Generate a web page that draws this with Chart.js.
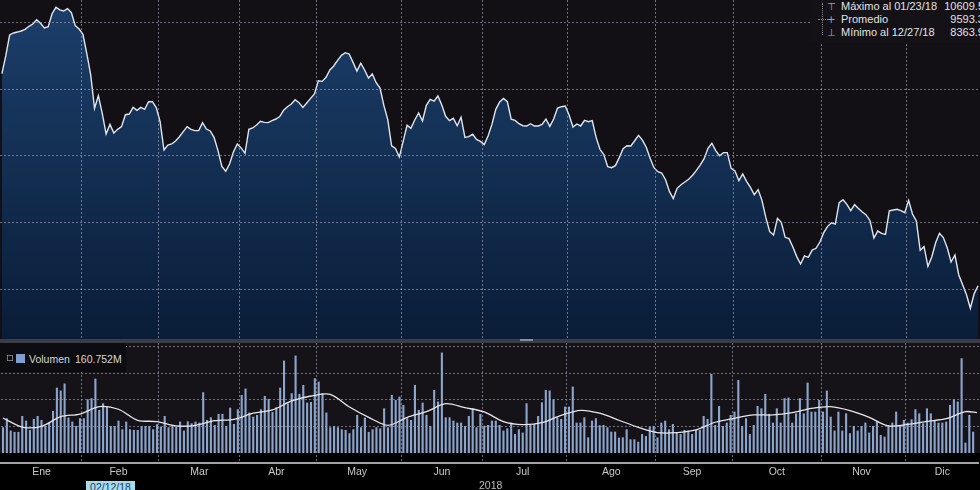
<!DOCTYPE html>
<html>
<head>
<meta charset="utf-8">
<script src="https://cdn.jsdelivr.net/npm/chart.js@4.4.1/dist/chart.umd.min.js"></script>
<style>
  body { margin: 0; background: #000; width: 980px; height: 490px; overflow: hidden; position: relative; font-family: 'Liberation Sans', Arial, sans-serif; }
  .abs { position: absolute; }
  #pricePanel { left: 0; top: 0; width: 980px; height: 339px; background: #121015; }
  #sep { left: 0; top: 339px; width: 980px; height: 4px; background: #3d3c44; }
  #handle { left: 520px; top: 339px; width: 13px; height: 2px; background: #8d8d92; }
  #volPanel { left: 0; top: 343px; width: 980px; height: 110px; background: #151318; }
  #vol { left: 0; top: 343px; }
  #stats { left: 811px; top: 0; width: 169px; height: 43px; background: #141217; color: #e2e2e2; font-size: 11px; line-height: 13px; }
  #stats .row { position: absolute; left: 30px; white-space: nowrap; }
  #stats .val { position: absolute; right: -4px; white-space: nowrap; }
  #stats .mk { position: absolute; left: 16px; color: #a8a8ad; font: 10px 'DejaVu Sans', sans-serif; line-height: 13px; }
  #volLegend { left: 0; top: 343px; width: 126px; height: 29px; background: #0d0c10; color: #d6d6d6; font-size: 10.5px; line-height: 13px; }
  #dateTag { left: 86px; top: 481px; width: 49px; height: 12px; background: #a6dcec; color: #1b3866; font-size: 10.5px; line-height: 12px; text-align: center; }
  #year { left: 479px; top: 479px; color: #bcbcbc; font-size: 10.5px; line-height: 13px; }
</style>
</head>
<body>
<div id="pricePanel" class="abs"><canvas id="price" width="980" height="339"></canvas></div>
<div id="sep" class="abs"></div>
<div id="handle" class="abs"></div>
<div id="volPanel" class="abs"></div>
<canvas id="vol" class="abs" width="980" height="147"></canvas>

<div id="stats" class="abs">
  <div class="abs" style="left:11px;top:3px;height:32px;border-left:1px dotted #8a8a90"></div>
  <div class="abs" style="left:7px;top:19px;width:14px;border-top:1px dotted #8a8a90"></div>
  <span class="mk" style="top:0px">&#8868;</span>
  <span class="mk" style="top:13px">+</span>
  <span class="mk" style="top:26px">&#8869;</span>
  <div class="row" style="top:0px">Máximo al 01/23/18</div><div class="val" style="top:0px">10609.5</div>
  <div class="row" style="top:13px">Promedio</div><div class="val" style="top:13px">9593.3</div>
  <div class="row" style="top:26px">Mínimo al 12/27/18</div><div class="val" style="top:26px">8363.9</div>
</div>

<div id="volLegend" class="abs">
  <div class="abs" style="left:7px;top:12px;width:4px;height:4px;border:1px solid #77777c"></div>
  <div class="abs" style="left:16px;top:11px;width:9px;height:9px;background:#809fd0"></div>
  <span class="abs" style="left:29px;top:10px">Volumen</span>
  <span class="abs" style="left:75px;top:10px">160.752M</span>
</div>

<div id="dateTag" class="abs">02/12/18</div>
<div id="year" class="abs">2018</div>

<script>
// 2018 trading sessions per month (first session of January is off the left edge)
const monthNames = ['Ene', 'Feb', 'Mar', 'Abr', 'May', 'Jun', 'Jul', 'Ago', 'Sep', 'Oct', 'Nov', 'Dic'];
const tradingDays = [21, 20, 21, 20, 22, 21, 22, 23, 20, 23, 22, 19];

// daily close, points
const closes = [
  10114, 10249, 10403, 10418, 10425, 10433, 10445, 10468, 10485, 10517,
  10490, 10455, 10465, 10562, 10609.5, 10590, 10582, 10600, 10570, 10473,
  10448, 10408, 10264, 10107, 9856, 9950, 9818, 9664, 9736, 9672,
  9699, 9719, 9808, 9813, 9863, 9841, 9863, 9848, 9905, 9905,
  9861, 9756, 9545, 9582, 9590, 9612, 9644, 9682, 9719, 9699,
  9689, 9689, 9749, 9701, 9687, 9637, 9540, 9423, 9386, 9440,
  9530, 9590, 9560, 9520, 9699, 9709, 9731, 9759, 9751, 9749,
  9764, 9776, 9794, 9841, 9868, 9888, 9920, 9898, 9863, 9896,
  9930, 9963, 10062, 10057, 10087, 10142, 10172, 10214, 10251, 10271,
  10261, 10199, 10134, 10192, 10142, 10082, 10112, 10047, 10007, 9876,
  9771, 9575, 9557, 9493, 9609, 9729, 9706, 9769, 9821, 9761,
  9878, 9923, 9910, 9948, 9881, 9796, 9764, 9781, 9726, 9789,
  9639, 9644, 9662, 9624, 9609, 9585, 9649, 9736, 9848, 9903,
  9930, 9905, 9774, 9766, 9741, 9726, 9724, 9741, 9724, 9724,
  9736, 9776, 9721, 9776, 9858, 9868, 9873, 9806, 9716, 9739,
  9724, 9766, 9756, 9764, 9639, 9550, 9510, 9420, 9413, 9428,
  9488, 9555, 9577, 9575, 9614, 9654, 9619, 9565, 9483, 9413,
  9383, 9373, 9323, 9236, 9182, 9259, 9286, 9306, 9326, 9356,
  9393, 9433, 9480, 9557, 9595, 9540, 9502, 9525, 9525, 9408,
  9388, 9316, 9366, 9311, 9266, 9211, 9249, 9167, 9040, 8935,
  8910, 9035, 9005, 8893, 8883, 8821, 8749, 8694, 8754, 8744,
  8798, 8811, 8858, 8928, 8975, 9002, 8992, 9152, 9174, 9139,
  9092, 9137, 9109, 9082, 9060, 9017, 8888, 8940, 8923, 8915,
  9090, 9097, 9102, 9092, 9077, 9169, 9067, 9015, 8796, 8823,
  8677, 8746, 8853, 8923, 8891, 8816, 8709, 8761, 8612, 8540,
  8465, 8363.9, 8473, 8532
];

// daily volume, millions
const volumes = [
  194, 262, 169, 159, 159, 279, 244, 174, 257, 279,
  249, 204, 229, 317, 493, 471, 524, 267, 237, 204,
  262, 262, 405, 413, 561, 325, 375, 350, 204, 204,
  244, 179, 237, 179, 174, 174, 204, 204, 204, 179,
  217, 199, 279, 194, 211, 199, 237, 169, 239, 224,
  237, 229, 458, 249, 269, 211, 295, 295, 204, 342,
  219, 330, 438, 486, 305, 274, 287, 330, 430, 408,
  310, 345, 493, 697, 375, 451, 735, 446, 513, 380,
  385, 564, 539, 451, 305, 194, 204, 194, 179, 174,
  149, 179, 287, 194, 267, 159, 179, 194, 186, 337,
  194, 438, 400, 425, 362, 262, 249, 513, 325, 380,
  287, 204, 476, 388, 758, 269, 269, 244, 229, 229,
  204, 279, 337, 194, 295, 206, 211, 244, 244, 211,
  169, 186, 229, 143, 179, 154, 375, 211, 219, 279,
  382, 476, 471, 405, 269, 257, 350, 350, 501, 229,
  229, 269, 118, 244, 262, 209, 211, 194, 161, 161,
  116, 118, 179, 103, 103, 85, 143, 128, 199, 204,
  118, 229, 244, 179, 219, 154, 143, 174, 169, 143,
  174, 174, 279, 257, 596, 211, 355, 204, 229, 287,
  312, 551, 204, 262, 143, 211, 355, 337, 445, 295,
  229, 337, 229, 413, 418, 229, 299, 413, 299, 531,
  312, 312, 400, 312, 471, 274, 169, 312, 169, 299,
  149, 204, 169, 204, 229, 154, 204, 237, 136, 123,
  211, 229, 312, 204, 249, 229, 254, 330, 299, 224,
  337, 299, 249, 229, 229, 237, 362, 405, 388, 715,
  78, 287, 160.752, null
];

// volume moving average, read at these sessions
const maDays = [0, 5, 10, 15, 20, 25, 30, 35, 40, 45, 50, 55, 60, 65, 70, 75, 80, 85, 90, 95,
  100, 105, 110, 115, 120, 125, 130, 135, 140, 145, 150, 155, 160, 165, 170, 175, 180, 185, 190, 195,
  200, 205, 210, 215, 220, 225, 230, 235, 240, 245, 250, 253];
const maValues = [264, 196, 201, 274, 294, 350, 330, 247, 237, 204, 209, 244, 254, 300, 325, 393, 430, 443, 347, 269,
  209, 269, 312, 372, 342, 310, 237, 214, 229, 284, 322, 300, 247, 194, 154, 154, 174, 232, 262, 287,
  287, 305, 337, 350, 320, 269, 204, 216, 239, 259, 312, 305];

const priceGrid = [8500, 9000, 9500, 10000, 10500];
const volumeGrid = [200, 400, 600, 800];

document.addEventListener("DOMContentLoaded", function() {
    const dayLabels = [];
    const monthStarts = new Set();
    const monthMid = {};
    let n = 0;
    tradingDays.forEach(function(count, m) {
        if (m > 0) monthStarts.add(n);
        monthMid[n + Math.floor((count - 1) / 2)] = monthNames[m];
        for (let d = 1; d <= count; d++) dayLabels.push(monthNames[m] + ' ' + d);
        n += count;
    });

    const gridColor = 'rgba(175, 175, 192, 0.6)';
    const monthGrid = function(c) { return monthStarts.has(c.index) ? gridColor : 'transparent'; };

    const ctx1 = document.getElementById('price').getContext('2d');
    new Chart(ctx1, {
        type: 'line',
        data: {
            labels: dayLabels,
            datasets: [{
                data: closes,
                borderColor: '#dfe6ee',
                borderWidth: 1.4,
                pointRadius: 0,
                tension: 0,
                fill: 'start',
                backgroundColor: function(c) {
                    const area = c.chart.chartArea;
                    if (!area) return '#143256';
                    const g = c.chart.ctx.createLinearGradient(0, area.top, 0, area.bottom);
                    g.addColorStop(0, '#1c3f6b');
                    g.addColorStop(1, '#0a1d38');
                    return g;
                }
            }]
        },
        options: {
            responsive: false,
            animation: false,
            events: [],
            layout: { padding: 0 },
            plugins: { legend: { display: false }, tooltip: { enabled: false } },
            scales: {
                x: {
                    offset: true,
                    grid: { offset: true, color: monthGrid, drawTicks: false, lineWidth: 1, z: 1 },
                    border: { display: false, dash: [2, 2] },
                    ticks: { display: false },
                    afterFit: function(s) { s.height = 0; }
                },
                y: {
                    min: 8134.3,
                    max: 10664.2,
                    afterBuildTicks: function(s) { s.ticks = priceGrid.map(function(v) { return { value: v }; }); },
                    grid: { color: gridColor, drawTicks: false, z: 1 },
                    border: { display: false, dash: [2, 2] },
                    ticks: { display: false },
                    afterFit: function(s) { s.width = 0; }
                }
            }
        }
    });

    const ctx2 = document.getElementById('vol').getContext('2d');
    new Chart(ctx2, {
        type: 'bar',
        data: {
            labels: dayLabels,
            datasets: [{
                type: 'line',
                order: 0,
                data: maDays.map(function(d, k) { return { x: dayLabels[d], y: maValues[k] }; }),
                borderColor: '#e6e6e8',
                borderWidth: 1.3,
                pointRadius: 0,
                tension: 0.3
            }, {
                type: 'bar',
                order: 1,
                data: volumes,
                backgroundColor: '#8ca5cc',
                barPercentage: 0.55,
                categoryPercentage: 1
            }]
        },
        options: {
            responsive: false,
            animation: false,
            events: [],
            layout: { padding: 0 },
            plugins: { legend: { display: false }, tooltip: { enabled: false } },
            scales: {
                x: {
                    offset: true,
                    grid: { offset: true, color: monthGrid, drawTicks: false },
                    border: { display: true, color: '#a2a2a6', width: 2, dash: [2, 2] },
                    ticks: {
                        autoSkip: false,
                        maxRotation: 0,
                        minRotation: 0,
                        padding: 3,
                        color: '#c8c8c8',
                        font: { family: "'Liberation Sans', Arial, sans-serif", size: 10.5 },
                        callback: function(v, i) { return monthMid[i] || ''; }
                    },
                    afterFit: function(s) { s.height = 27; }
                },
                y: {
                    min: -75.5,
                    max: 830,
                    afterBuildTicks: function(s) { s.ticks = volumeGrid.map(function(v) { return { value: v }; }); },
                    grid: { color: gridColor, drawTicks: false },
                    border: { display: false, dash: [2, 2] },
                    ticks: { display: false },
                    afterFit: function(s) { s.width = 0; }
                }
            }
        }
    });
});
</script>
</body>
</html>
